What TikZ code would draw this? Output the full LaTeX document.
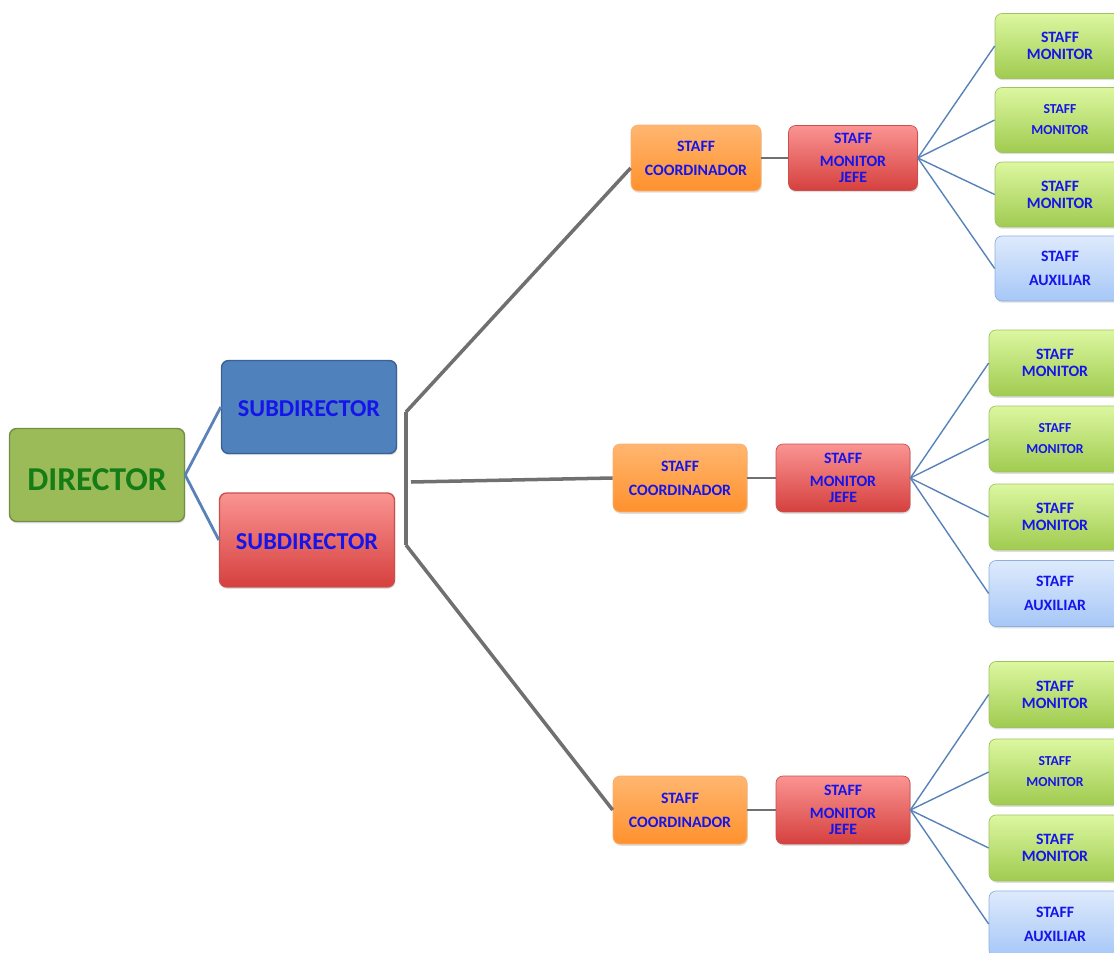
\documentclass[tikz,border=0pt]{standalone}
\usepackage{fontspec}
\setmainfont{Carlito}
\usetikzlibrary{shadows}

\definecolor{txtblue}{RGB}{20,20,235}
\definecolor{dirgreen}{RGB}{155,187,89}
\definecolor{dirtext}{RGB}{22,125,22}
\definecolor{subblue}{RGB}{79,129,189}
\definecolor{linkblue}{RGB}{88,130,184}
\definecolor{linkgray}{RGB}{112,112,112}

\begin{document}
\begin{tikzpicture}[x=0.02cm, y=-0.02cm,
    box/.style ={rounded corners=4pt, align=center, inner sep=0pt, text=txtblue,
                 font=\bfseries, drop shadow={opacity=0.25, shadow xshift=0.5pt, shadow yshift=-1pt}},
    dirbox/.style ={box, fill=dirgreen, draw=dirgreen!75!black, thick, text=dirtext, text height=17.5pt,
                 minimum width=3.5cm, minimum height=1.86cm, font=\bfseries\fontsize{19}{22}\selectfont},
    subblue/.style ={box, fill=subblue, draw=subblue!75!black, thick, text height=11pt,
                 minimum width=3.5cm, minimum height=1.86cm, font=\bfseries\fontsize{13.8}{16}\selectfont},
    redfill/.style ={top color={rgb,255:red,250;green,148;blue,146}, bottom color={rgb,255:red,213;green,64;blue,62},
                 draw={rgb,255:red,200;green,80;blue,78}},
    subred/.style ={box, redfill, thick, text height=11pt,
                 minimum width=3.5cm, minimum height=1.88cm, font=\bfseries\fontsize{13.8}{16}\selectfont},
    coordbox/.style ={box, top color={rgb,255:red,255;green,182;blue,112}, bottom color={rgb,255:red,255;green,145;blue,45},
                 draw={rgb,255:red,250;green,175;blue,110},
                 minimum width=2.68cm, minimum height=1.36cm, font=\bfseries\fontsize{9}{13.6}\selectfont},
    jefebox/.style ={box, redfill,
                 minimum width=2.68cm, minimum height=1.36cm, font=\bfseries\fontsize{9}{9.6}\selectfont},
    monbox/.style ={box, top color={rgb,255:red,220;green,247;blue,160}, bottom color={rgb,255:red,160;green,203;blue,80},
                 draw={rgb,255:red,160;green,195;blue,95},
                 minimum width=2.64cm, minimum height=1.32cm, font=\bfseries\fontsize{9}{9.6}\selectfont},
    monwide/.style ={monbox, font=\bfseries\fontsize{7.8}{12}\selectfont},
    auxbox/.style ={box, top color={rgb,255:red,222;green,234;blue,252}, bottom color={rgb,255:red,166;green,199;blue,247},
                 draw={rgb,255:red,140;green,176;blue,224},
                 minimum width=2.64cm, minimum height=1.32cm, font=\bfseries\fontsize{9}{13.6}\selectfont},
    bluelink/.style ={draw=linkblue, line width=1.6pt},
    thinlink/.style ={draw=linkblue, line width=0.8pt},
    graylink/.style ={draw=linkgray, line width=2pt},
    graythin/.style ={draw=linkgray, line width=1.1pt}]
   \useasboundingbox (0,0) rectangle (1114,952);
   \clip (0,0) rectangle (1114,952);

   % director and subdirectors
   \node[dirbox] (dir) at (97,475) {DIRECTOR};
   \node[subblue] (subA) at (309,407) {SUBDIRECTOR};
   \node[subred] (subB) at (307,540) {SUBDIRECTOR};
   \draw[bluelink] (dir.east) -- (subA.west);
   \draw[bluelink] (dir.east) -- (subB.west);

   % coordinators
   \node[coordbox, minimum width=2.6cm, minimum height=1.32cm] (coA) at (696,158) {STAFF\\COORDINADOR};
   \node[coordbox] (coB) at (680,478) {STAFF\\COORDINADOR};
   \node[coordbox] (coC) at (680,810) {STAFF\\COORDINADOR};

   \coordinate (brtop) at (406,412);
   \coordinate (brbot) at (406,545);
   \coordinate (brmid) at (411,482);
   \draw[graylink] (brtop) -- (brbot);
   \draw[graylink] (brtop) -- ([yshift=-0.2cm]coA.west);
   \draw[graylink] (brmid) -- (coB.west);
   \draw[graylink] (brbot) -- (coC.west);

   % jefes
   \node[jefebox, minimum width=2.58cm, minimum height=1.3cm] (jeA) at (853,158) {STAFF\\[3.4pt]MONITOR\\JEFE};
   \node[jefebox] (jeB) at (843,478) {STAFF\\[3.4pt]MONITOR\\JEFE};
   \node[jefebox] (jeC) at (843,810) {STAFF\\[3.4pt]MONITOR\\JEFE};
   \draw[graythin] (coA.east) -- (jeA.west);
   \draw[graythin] (coB.east) -- (jeB.west);
   \draw[graythin] (coC.east) -- (jeC.west);

   % first group
   \node[monbox, minimum width=2.6cm, minimum height=1.3cm] (mAa) at (1060,46) {STAFF\\MONITOR};
   \node[monwide, minimum width=2.6cm, minimum height=1.3cm] (mAb) at (1060,120) {STAFF\\MONITOR};
   \node[monbox, minimum width=2.6cm, minimum height=1.3cm] (mAc) at (1060,194.5) {STAFF\\MONITOR};
   \node[auxbox, minimum width=2.6cm, minimum height=1.3cm] (auxA) at (1060,268.5) {STAFF\\AUXILIAR};
   \draw[thinlink] (jeA.east) -- (mAa.west);
   \draw[thinlink] (jeA.east) -- (mAb.west);
   \draw[thinlink] (jeA.east) -- (mAc.west);
   \draw[thinlink] (jeA.east) -- (auxA.west);

   % second group
   \node[monbox] (mBa) at (1055,363) {STAFF\\MONITOR};
   \node[monwide] (mBb) at (1055,439) {STAFF\\MONITOR};
   \node[monbox] (mBc) at (1055,517) {STAFF\\MONITOR};
   \node[auxbox] (auxB) at (1055,593.5) {STAFF\\AUXILIAR};
   \draw[thinlink] (jeB.east) -- (mBa.west);
   \draw[thinlink] (jeB.east) -- (mBb.west);
   \draw[thinlink] (jeB.east) -- (mBc.west);
   \draw[thinlink] (jeB.east) -- (auxB.west);

   % third group
   \node[monbox] (mCa) at (1055,694.5) {STAFF\\MONITOR};
   \node[monwide] (mCb) at (1055,772) {STAFF\\MONITOR};
   \node[monbox] (mCc) at (1055,848) {STAFF\\MONITOR};
   \node[auxbox] (auxC) at (1055,924) {STAFF\\AUXILIAR};
   \draw[thinlink] (jeC.east) -- (mCa.west);
   \draw[thinlink] (jeC.east) -- (mCb.west);
   \draw[thinlink] (jeC.east) -- (mCc.west);
   \draw[thinlink] (jeC.east) -- (auxC.west);
\end{tikzpicture}
\end{document}
